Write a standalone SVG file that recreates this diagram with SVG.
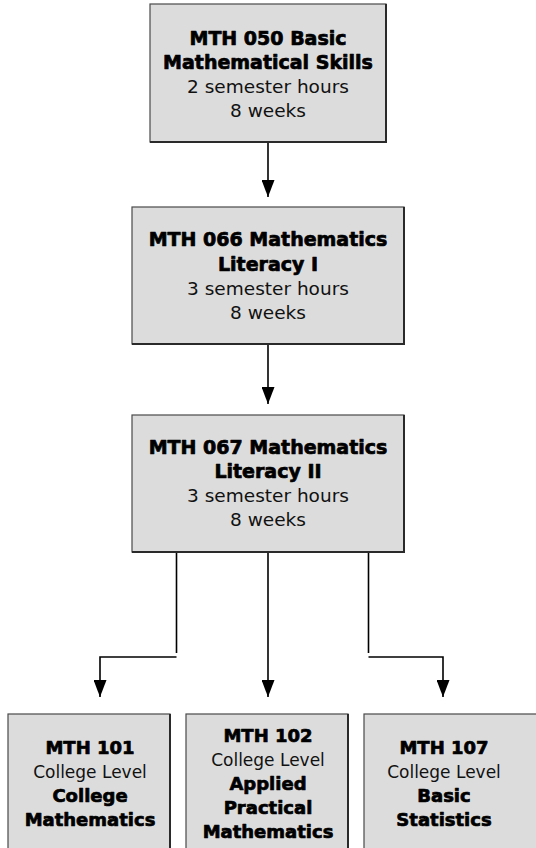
<svg xmlns="http://www.w3.org/2000/svg" width="536" height="848" viewBox="0 0 536 848">
<style>
.box{fill:#dcdcdc;stroke:#4a4a4a;stroke-width:1.2}
.edge{fill:none;stroke:#2a2a2a;stroke-width:2}
.b{font-family:"DejaVu Sans",sans-serif;font-weight:bold;font-size:19px;fill:#000;stroke:#000;stroke-width:0.7;stroke-linejoin:round;text-anchor:middle}
.r{font-family:"DejaVu Sans",sans-serif;font-size:18.5px;fill:#111;text-anchor:middle}
.bs{font-size:18px}
.rs{font-size:17px}
.line{fill:none;stroke:#000;stroke-width:1.6}
</style>
<defs>
<marker id="ah" viewBox="0 0 17 13" refX="17" refY="6.5" markerWidth="17" markerHeight="13" markerUnits="userSpaceOnUse" orient="auto">
<path d="M0,0 L17,6.5 L0,13 z" fill="#000"/>
</marker>
</defs>
<rect width="536" height="848" fill="#fff"/>
<g id="connectors">
<path class="line" d="M268,142 V197" marker-end="url(#ah)"/>
<path class="line" d="M268,344 V404" marker-end="url(#ah)"/>
<path class="line" d="M176.5,552 V653"/>
<path class="line" d="M176.5,657 H100 V697" marker-end="url(#ah)"/>
<path class="line" d="M268,552 V697" marker-end="url(#ah)"/>
<path class="line" d="M368.5,552 V653"/>
<path class="line" d="M368.5,657 H443 V697" marker-end="url(#ah)"/>
</g>
<g id="mth050">
<rect class="box" x="150" y="4" width="236" height="138"/>
<path class="edge" d="M386,4 V142 H150"/>
<text class="b" x="268" y="44.5">MTH 050 Basic</text>
<text class="b" x="268" y="68.5">Mathematical Skills</text>
<text class="r" x="268" y="92.5">2 semester hours</text>
<text class="r" x="268" y="116.5">8 weeks</text>
</g>
<g id="mth066">
<rect class="box" x="132" y="207" width="272" height="137"/>
<path class="edge" d="M404,207 V344 H132"/>
<text class="b" x="268" y="246">MTH 066 Mathematics</text>
<text class="b" x="268" y="270.5">Literacy I</text>
<text class="r" x="268" y="295">3 semester hours</text>
<text class="r" x="268" y="318.5">8 weeks</text>
</g>
<g id="mth067">
<rect class="box" x="132" y="415" width="272" height="137"/>
<path class="edge" d="M404,415 V552 H132"/>
<text class="b" x="268" y="453.5">MTH 067 Mathematics</text>
<text class="b" x="268" y="477.5">Literacy II</text>
<text class="r" x="268" y="501.5">3 semester hours</text>
<text class="r" x="268" y="526">8 weeks</text>
</g>
<g id="mth101">
<rect class="box" x="8" y="714" width="162" height="150"/>
<path class="edge" d="M170,714 V864"/>
<text class="b bs" x="90" y="754">MTH 101</text>
<text class="r rs" x="90" y="778">College Level</text>
<text class="b bs" x="90" y="802">College</text>
<text class="b bs" x="90" y="826">Mathematics</text>
</g>
<g id="mth102">
<rect class="box" x="186" y="714" width="162" height="150"/>
<path class="edge" d="M348,714 V864"/>
<text class="b bs" x="268" y="742">MTH 102</text>
<text class="r rs" x="268" y="766">College Level</text>
<text class="b bs" x="268" y="789.5">Applied</text>
<text class="b bs" x="268" y="814">Practical</text>
<text class="b bs" x="268" y="838">Mathematics</text>
</g>
<g id="mth107">
<rect class="box" x="364" y="714" width="190" height="150"/>
<text class="b bs" x="444" y="754">MTH 107</text>
<text class="r rs" x="444" y="778">College Level</text>
<text class="b bs" x="444" y="802">Basic</text>
<text class="b bs" x="444" y="826">Statistics</text>
</g>
</svg>
